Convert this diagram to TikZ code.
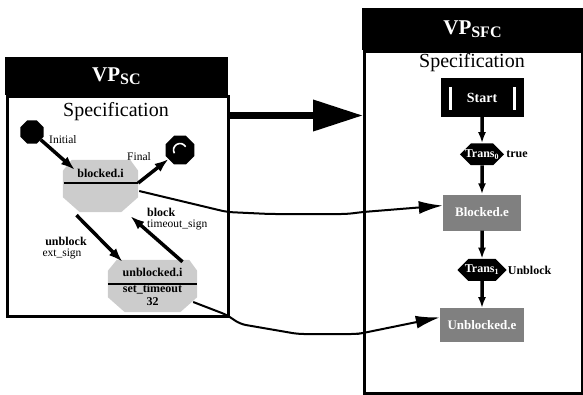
\documentclass[tikz,border=0pt]{standalone}
\usepackage{fontspec}
\setmainfont{Liberation Serif}
\usetikzlibrary{positioning, shapes.misc, shapes.geometric, arrows.meta}
\newcommand{\chamfill}[1]{%
  \fill[gray!40] ([xshift=9pt]#1.north west) -- ([xshift=-8pt]#1.north east)
    -- ([yshift=-11pt]#1.north east) -- ([yshift=15pt]#1.south east)
    -- ([xshift=-17pt]#1.south east) -- ([xshift=17pt]#1.south west)
    -- ([yshift=15pt]#1.south west) -- ([yshift=-11pt]#1.north west) -- cycle;}

\begin{document}
\begin{tikzpicture}[x=1pt, y=-1pt,
  panel/.style={draw, line width=3pt, inner sep=0pt, anchor=north west},
  header/.style={fill=black, text=white, inner sep=0pt, anchor=north west, font=\bfseries\fontsize{21}{22}\selectfont},
  spec/.style={font=\fontsize{20}{21}\selectfont},
  scstate/.style={rectangle, inner sep=0pt},
  blob/.style={regular polygon, regular polygon sides=8, fill=black, inner sep=0pt},
  small/.style={font=\fontsize{11.5}{12}\selectfont, inner sep=0pt},
  smallb/.style={font=\bfseries\fontsize{12}{13}\selectfont, inner sep=0pt},
  stepbox/.style={fill=black!50, text=white, font=\bfseries\fontsize{13}{14}\selectfont, inner sep=0pt},
  transbox/.style={chamfered rectangle, chamfered rectangle xsep=6pt, chamfered rectangle ysep=6pt, fill=black, text=white, inner sep=0pt, font=\bfseries\fontsize{12}{13}\selectfont},
  sctrans/.style={-{Latex[length=14pt,width=10pt]}, line width=3.5pt},
  sfcarrow/.style={-{Latex[length=11pt,width=8pt]}, line width=3.5pt},
  link/.style={-{Latex[length=24pt,width=13pt]}, line width=2pt}]
\useasboundingbox (0,0) rectangle (583,394);

% VP_SC side
\node[panel, minimum width=221, minimum height=220] (scbox) at (6,95) {};
\node[header, minimum width=223, minimum height=38] (schead) at (5,57) {VP\textsubscript{\fontsize{16}{17}\selectfont SC}};
\node[spec] (scspec) at (116,112) {Specification};

\node[blob, minimum size=25] (ini) at (32,132) {};
\node[small, anchor=west] (initxt) at (49,140) {Initial};
\node[blob, minimum size=31] (fin) at (180,150) {};
\draw[white, line width=1.6pt] (fin.center) ++(150:6.5) arc[start angle=150, end angle=330, radius=6.5];
\node[small] (fintxt) at (139,157) {Final};

\node[scstate, minimum width=75, minimum height=52] (bi) at (100.5,186) {};
\chamfill{bi}
\node[smallb] (bitxt) at (100.5,173) {blocked.i};
\draw[line width=2pt] ([xshift=1pt]bi.west |- 0,183) -- (bi.east |- 0,183);

\node[scstate, minimum width=89, minimum height=52] (uni) at (152.5,286) {};
\chamfill{uni}
\node[smallb] (unitxt) at (152.5,272) {unblocked.i};
\draw[line width=2pt] (uni.west |- 0,284) -- (uni.east |- 0,284);
\node[smallb] (settxt) at (152.5,289.5) {set\_timeout};
\node[smallb] (numtxt) at (152.5,301.5) {32};

\draw[sctrans] (ini) -- ([shift={(12,10)}]bi.north west);
\draw[sctrans] ([yshift=3pt]bi.east) -- (fin);
\draw[sctrans] ([xshift=-24pt, yshift=-3pt]bi.south) -- ([xshift=-30pt, yshift=-2pt]uni.north);
\draw[sctrans] ([xshift=30pt, yshift=-2pt]uni.north) -- ([xshift=30pt, yshift=-4pt]bi.south);

\node[smallb] (ubtxt) at (66,241) {unblock};
\node[small] (extxt) at (62,254) {ext\_sign};
\node[smallb, anchor=west] (bltxt) at (147,212) {block};
\node[small, anchor=west] (totxt) at (147,225) {timeout\_sign};

% VP_SFC side
\node[panel, minimum width=218, minimum height=342] (sfcbox) at (363,50) {};
\node[header, minimum width=221, minimum height=42] (sfchead) at (362,8) {VP\textsubscript{\fontsize{16}{17}\selectfont SFC}};
\node[spec] (sfcspec) at (472,63) {Specification};

\node[fill=black, text=white, minimum width=83, minimum height=39, inner sep=0pt, font=\bfseries\fontsize{14}{15}\selectfont] (start) at (482,97.5) {Start};
\draw[white, line width=2.5pt] ([shift={(10,9)}]start.north west) -- ([shift={(10,-7)}]start.south west);
\draw[white, line width=2.5pt] ([shift={(-9,9)}]start.north east) -- ([shift={(-9,-7)}]start.south east);

\node[transbox, minimum width=44, minimum height=19, below=26pt of start] (tr0) {Trans\textsubscript{0}};
\node[smallb, right=2pt of tr0] (truetxt) {true};
\node[stepbox, minimum width=78, minimum height=36, below=29pt of tr0] (be) {Blocked.e};
\node[transbox, minimum width=49, minimum height=22, below=28pt of be] (tr1) {Trans\textsubscript{1}};
\node[smallb, right=1pt of tr1] (ubltxt) {Unblock};
\node[stepbox, minimum width=84, minimum height=34, below=27pt of tr1] (ue) {Unblocked.e};

\draw[sfcarrow] (start) -- (tr0);
\draw[sfcarrow] (tr0) -- (be);
\draw[sfcarrow] (be) -- (tr1);
\draw[sfcarrow] (tr1) -- (ue);

% mapping
\draw[-{Triangle[length=50pt,width=30pt]}, line width=7pt] (scbox.east |- 0,115.5) -- (sfcbox.west |- 0,115.5);
\draw[link, rounded corners=6pt] ([shift={(1,5)}]bi.east) -- (227,212) -- (270,214) -- (347,214) -- (363,212) -- ([yshift=7pt]be.west);
\draw[link, rounded corners=6pt] ([shift={(-4,16)}]uni.east) -- (227,315) -- (240,324) -- (298,334) -- (357,334) -- (363,333) -- ([yshift=8pt]ue.west);
\end{tikzpicture}
\end{document}
